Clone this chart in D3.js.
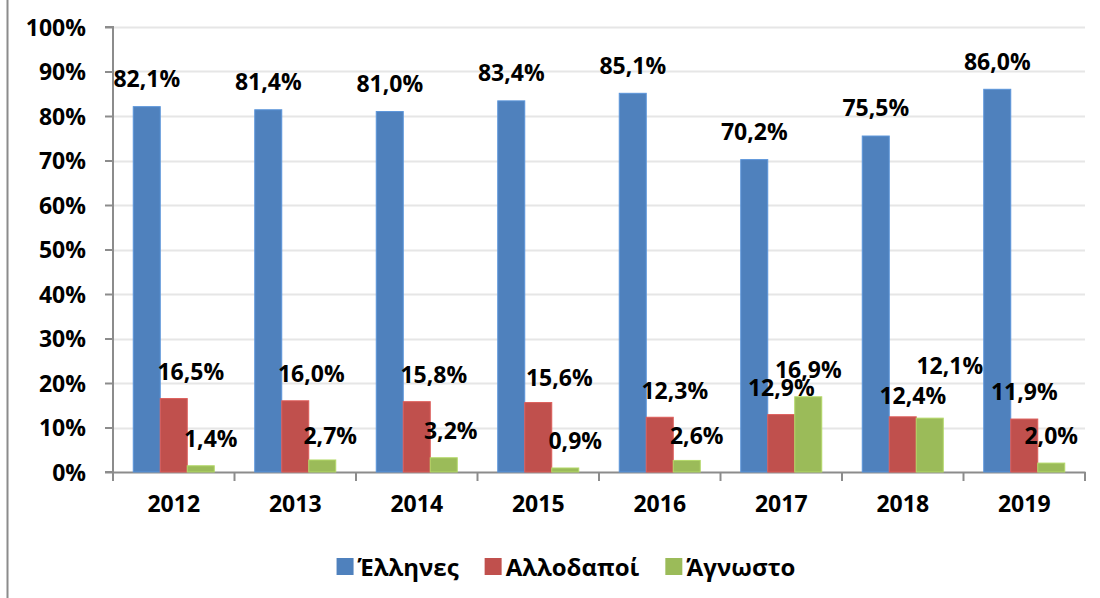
<!DOCTYPE html>
<html>
<head>
<meta charset="utf-8">
<script src="https://cdn.jsdelivr.net/npm/d3@7/dist/d3.min.js"></script>
<style>
  html, body { margin: 0; padding: 0; background: #fff; }
  svg { display: block; }
  text { font-family: "Open Sans", "Noto Sans", sans-serif; font-weight: 700; fill: #000; }
</style>
</head>
<body>
<svg id="chart" width="1100" height="598"></svg>
<script>
// ---- data ----
const years = ["2012", "2013", "2014", "2015", "2016", "2017", "2018", "2019"];
const seriesNames = ["Έλληνες", "Αλλοδαποί", "Άγνωστο"];
const greeks    = [82.1, 81.4, 81.0, 83.4, 85.1, 70.2, 75.5, 86.0];
const foreigners = [16.5, 16.0, 15.8, 15.6, 12.3, 12.9, 12.4, 11.9];
const unknown   = [1.4, 2.7, 3.2, 0.9, 2.6, 16.9, 12.1, 2.0];
const yTicks = [0, 10, 20, 30, 40, 50, 60, 70, 80, 90, 100];

// ---- style / layout ----
const colors = ["#4F81BD", "#C0504D", "#9BBB59"];
// manual label nudges (px) as placed in the original chart
const labelDx = [
  [0, 0, 0, 0, 0, 0, 0, 0],
  [17, 16, 17, 21, 15, 0, 10, 0],
  [10, 8, 7, 10, 10, 0, 20, 0]
];
const labelDy = [
  [0, 0, 0, 0, 0, 0, 0, 0],
  [0, 0, 0, 2, 0, 0, 6, 0],
  [0, 3, 0, 0, 2, 0, -25, 0]
];

const seriesValues = [greeks, foreigners, unknown];
const svg = d3.select("#chart");
const mLeft = 113, mRight = 1085, mTop = 27, mBottom = 472;
const fs = "23px";

const fmt = v => v.toFixed(1).replace(".", ",") + "%";

// outer frame line (left edge)
svg.append("line").attr("x1", 7.5).attr("x2", 7.5).attr("y1", 0).attr("y2", 598)
  .attr("stroke", "#8c8c8c").attr("stroke-width", 2);

const x = d3.scaleBand().domain(years).range([mLeft, mRight]).paddingInner(0).paddingOuter(0);
const bw = x.bandwidth();
const xs = d3.scaleBand().domain(d3.range(3)).range([bw / 6, bw * 5 / 6]).padding(0);
const y = d3.scaleLinear().domain([0, 100]).range([mBottom, mTop]);

// gridlines
svg.append("g").selectAll("line").data(yTicks.filter(t => t > 0)).join("line")
  .attr("x1", mLeft).attr("x2", mRight)
  .attr("y1", d => Math.round(y(d)) + 0.5).attr("y2", d => Math.round(y(d)) + 0.5)
  .attr("stroke", "#e6e6e6").attr("stroke-width", 2);

// y axis
const yAxis = d3.axisLeft(y).tickValues(yTicks).tickFormat(d => d + "%").tickSize(8).tickPadding(19);
const gy = svg.append("g").attr("transform", `translate(${mLeft},0)`).call(yAxis);
gy.select(".domain").attr("stroke", "#8c8c8c").attr("stroke-width", 2).attr("d", `M-8,${mTop}H0V${mBottom}H-8`);
gy.selectAll(".tick line").attr("stroke", "#8c8c8c").attr("stroke-width", 2);
gy.selectAll(".tick text").style("font-size", fs).attr("dy", "0.36em")
  .style("font-family", '"Open Sans", sans-serif').style("font-weight", "700").attr("fill", "#000");

// x axis
const xAxis = d3.axisBottom(x).tickSize(0).tickPadding(19);
const gx = svg.append("g").attr("transform", `translate(0,${mBottom})`).call(xAxis);
gx.select(".domain").attr("stroke", "#8c8c8c").attr("stroke-width", 2);
gx.selectAll(".tick text").style("font-size", fs).attr("dy", "0.9em")
  .style("font-family", '"Open Sans", sans-serif').style("font-weight", "700").attr("fill", "#000");
// category boundary ticks
const bounds = years.map(d => x(d)).concat([mRight]);
gx.append("g").selectAll("line").data(bounds).join("line")
  .attr("x1", d => d).attr("x2", d => d).attr("y1", 0).attr("y2", 9)
  .attr("stroke", "#8c8c8c").attr("stroke-width", 2);

// bars
seriesValues.forEach((vals, si) => {
  const g = svg.append("g");
  g.selectAll("rect").data(vals).join("rect")
    .attr("x", (d, i) => x(years[i]) + xs(si))
    .attr("width", xs.bandwidth())
    .attr("y", d => y(d))
    .attr("height", d => mBottom - y(d))
    .attr("fill", colors[si])
    .attr("stroke", d3.color(colors[si]).brighter(0.4))
    .attr("stroke-width", 1);
});

// labels
seriesValues.forEach((vals, si) => {
  svg.append("g").selectAll("text").data(vals).join("text")
    .attr("x", (d, i) => x(years[i]) + xs(si) + xs.bandwidth() / 2 + labelDx[si][i])
    .attr("y", (d, i) => y(d) - (si === 0 ? 28 : 27) + labelDy[si][i])
    .attr("dy", "0.36em")
    .attr("text-anchor", "middle")
    .style("font-size", fs)
    .text(d => fmt(d));
});

// legend
const legend = svg.append("g");
const items = legend.selectAll("g").data(seriesNames).join("g");
items.append("rect").attr("width", 17).attr("height", 17).attr("y", -9).attr("fill", (d, i) => colors[i]);
items.append("text").attr("x", 21).attr("dy", "0.36em").style("font-size", "24px").text(d => d);
let cx = 0;
items.each(function () {
  const w = 21 + d3.select(this).select("text").node().getComputedTextLength();
  d3.select(this).attr("transform", `translate(${cx},0)`);
  cx += w + 26;
});
const total = cx - 26;
legend.attr("transform", `translate(${566 - total / 2},567)`);
</script>
</body>
</html>
